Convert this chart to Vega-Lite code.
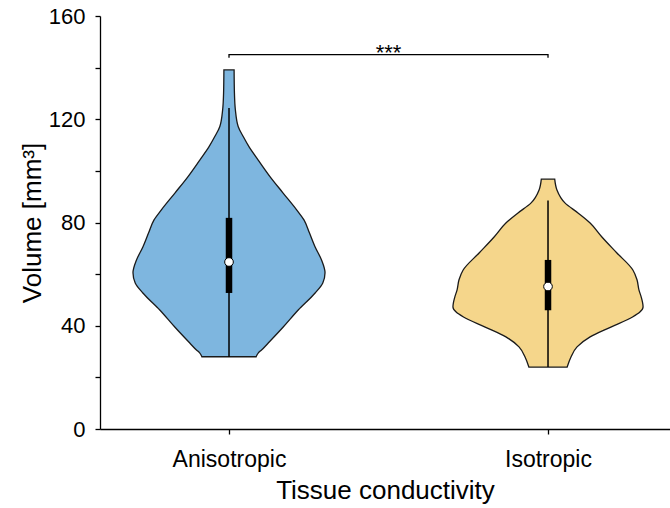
{
  "$schema": "https://vega.github.io/schema/vega-lite/v6.json",
  "width": 570,
  "height": 413,
  "autosize": "none",
  "padding": {"left": 100, "top": 16, "right": 0, "bottom": 79},
  "config": {
    "view": {"stroke": null},
    "font": "Liberation Sans",
    "axis": {
      "grid": false,
      "domainColor": "#000000",
      "domainWidth": 1.3,
      "tickColor": "#000000",
      "tickWidth": 1.3,
      "tickSize": 5,
      "labelColor": "#000000",
      "labelFontSize": 22,
      "titleColor": "#000000",
      "titleFontSize": 26,
      "titleFontWeight": "normal",
      "labelFont": "Liberation Sans",
      "titleFont": "Liberation Sans"
    }
  },
  "datasets": {
    "violin": [
      {"group": "Anisotropic", "vol": 28, "lo": -0.085, "hi": 0.085},
      {"group": "Anisotropic", "vol": 29.5, "lo": -0.092, "hi": 0.092},
      {"group": "Anisotropic", "vol": 30.6, "lo": -0.102, "hi": 0.102},
      {"group": "Anisotropic", "vol": 33.3, "lo": -0.123, "hi": 0.123},
      {"group": "Anisotropic", "vol": 39.5, "lo": -0.17, "hi": 0.17},
      {"group": "Anisotropic", "vol": 46.1, "lo": -0.217, "hi": 0.217},
      {"group": "Anisotropic", "vol": 52.7, "lo": -0.27, "hi": 0.27},
      {"group": "Anisotropic", "vol": 56.6, "lo": -0.294, "hi": 0.294},
      {"group": "Anisotropic", "vol": 60.5, "lo": -0.301, "hi": 0.301},
      {"group": "Anisotropic", "vol": 65.5, "lo": -0.29, "hi": 0.29},
      {"group": "Anisotropic", "vol": 70.5, "lo": -0.27, "hi": 0.27},
      {"group": "Anisotropic", "vol": 76, "lo": -0.252, "hi": 0.252},
      {"group": "Anisotropic", "vol": 81, "lo": -0.235, "hi": 0.235},
      {"group": "Anisotropic", "vol": 84.9, "lo": -0.212, "hi": 0.212},
      {"group": "Anisotropic", "vol": 91.5, "lo": -0.169, "hi": 0.169},
      {"group": "Anisotropic", "vol": 97.7, "lo": -0.129, "hi": 0.129},
      {"group": "Anisotropic", "vol": 104.3, "lo": -0.091, "hi": 0.091},
      {"group": "Anisotropic", "vol": 109.3, "lo": -0.063, "hi": 0.063},
      {"group": "Anisotropic", "vol": 113.2, "lo": -0.045, "hi": 0.045},
      {"group": "Anisotropic", "vol": 117.1, "lo": -0.029, "hi": 0.029},
      {"group": "Anisotropic", "vol": 123.6, "lo": -0.02, "hi": 0.02},
      {"group": "Anisotropic", "vol": 130.2, "lo": -0.017, "hi": 0.017},
      {"group": "Anisotropic", "vol": 139.1, "lo": -0.016, "hi": 0.016},
      {"group": "Isotropic", "vol": 24, "lo": 0.94, "hi": 1.06},
      {"group": "Isotropic", "vol": 27.9, "lo": 0.928, "hi": 1.072},
      {"group": "Isotropic", "vol": 31.8, "lo": 0.909, "hi": 1.091},
      {"group": "Isotropic", "vol": 35.7, "lo": 0.868, "hi": 1.132},
      {"group": "Isotropic", "vol": 39.5, "lo": 0.803, "hi": 1.197},
      {"group": "Isotropic", "vol": 43.4, "lo": 0.735, "hi": 1.265},
      {"group": "Isotropic", "vol": 45.3, "lo": 0.712, "hi": 1.288},
      {"group": "Isotropic", "vol": 47.3, "lo": 0.702, "hi": 1.298},
      {"group": "Isotropic", "vol": 51.2, "lo": 0.708, "hi": 1.292},
      {"group": "Isotropic", "vol": 53.9, "lo": 0.715, "hi": 1.285},
      {"group": "Isotropic", "vol": 57.8, "lo": 0.721, "hi": 1.279},
      {"group": "Isotropic", "vol": 61.6, "lo": 0.734, "hi": 1.266},
      {"group": "Isotropic", "vol": 68.2, "lo": 0.784, "hi": 1.216},
      {"group": "Isotropic", "vol": 74.4, "lo": 0.831, "hi": 1.169},
      {"group": "Isotropic", "vol": 79.8, "lo": 0.868, "hi": 1.132},
      {"group": "Isotropic", "vol": 83.7, "lo": 0.906, "hi": 1.094},
      {"group": "Isotropic", "vol": 87.6, "lo": 0.947, "hi": 1.053},
      {"group": "Isotropic", "vol": 92.6, "lo": 0.972, "hi": 1.028},
      {"group": "Isotropic", "vol": 96.8, "lo": 0.979, "hi": 1.021}
    ],
    "box": [
      {"group": "Anisotropic", "x": 0, "min": 28, "max": 124.4, "q1": 52.7, "q3": 81.8, "median": 64.7},
      {"group": "Isotropic", "x": 1, "min": 24, "max": 88.5, "q1": 46, "q3": 65.5, "median": 55.2}
    ],
    "bracket": [
      {"x": 0, "y": 143.8, "o": 0},
      {"x": 0, "y": 145, "o": 1},
      {"x": 1, "y": 145, "o": 2},
      {"x": 1, "y": 143.8, "o": 3}
    ],
    "sig": [{"x": 0.5, "y": 142.8, "label": "***"}]
  },
  "layer": [
    {
      "data": {"name": "violin"},
      "mark": {"type": "area", "orient": "horizontal", "stroke": "#1a1a1a", "strokeWidth": 1.3, "opacity": 1, "interpolate": "monotone"},
      "encoding": {
        "y": {"field": "vol", "type": "quantitative", "scale": {"domain": [0, 160], "nice": false},
              "axis": {"values": [0, 20, 40, 60, 80, 100, 120, 140, 160], "labelExpr": "datum.value % 40 == 0 ? datum.label : ''", "labelPadding": 10, "titlePadding": 3},
              "title": "Volume [mm³]"},
        "x": {"field": "lo", "type": "quantitative", "scale": {"domain": [-0.4044, 1.3824], "nice": false, "zero": false},
              "axis": {"values": [0, 1], "labelExpr": "datum.value == 0 ? 'Anisotropic' : 'Isotropic'", "labelPadding": 14, "labelFontSize": 23, "titlePadding": 6},
              "title": "Tissue conductivity"},
        "x2": {"field": "hi"},
        "color": {"field": "group", "type": "nominal", "scale": {"domain": ["Anisotropic", "Isotropic"], "range": ["#7eb6df", "#f5d68b"]}, "legend": null}
      }
    },
    {
      "data": {"name": "box"},
      "mark": {"type": "rule", "color": "#000000", "strokeWidth": 1.5},
      "encoding": {
        "x": {"field": "x", "type": "quantitative", "title": "Tissue conductivity"},
        "y": {"field": "min", "type": "quantitative", "title": "Volume [mm³]"},
        "y2": {"field": "max"}
      }
    },
    {
      "data": {"name": "box"},
      "mark": {"type": "rule", "color": "#000000", "strokeWidth": 6.5, "strokeCap": "butt"},
      "encoding": {
        "x": {"field": "x", "type": "quantitative", "title": "Tissue conductivity"},
        "y": {"field": "q1", "type": "quantitative", "title": "Volume [mm³]"},
        "y2": {"field": "q3"}
      }
    },
    {
      "data": {"name": "box"},
      "mark": {"type": "point", "filled": true, "fill": "#ffffff", "stroke": "#000000", "strokeWidth": 1, "size": 75, "opacity": 1},
      "encoding": {
        "x": {"field": "x", "type": "quantitative", "title": "Tissue conductivity"},
        "y": {"field": "median", "type": "quantitative", "title": "Volume [mm³]"}
      }
    },
    {
      "data": {"name": "bracket"},
      "mark": {"type": "line", "color": "#000000", "strokeWidth": 1.3},
      "encoding": {
        "x": {"field": "x", "type": "quantitative", "title": "Tissue conductivity"},
        "y": {"field": "y", "type": "quantitative", "title": "Volume [mm³]"},
        "order": {"field": "o"}
      }
    },
    {
      "data": {"name": "sig"},
      "mark": {"type": "text", "fontSize": 22, "baseline": "alphabetic", "color": "#000000"},
      "encoding": {
        "x": {"field": "x", "type": "quantitative", "title": "Tissue conductivity"},
        "y": {"field": "y", "type": "quantitative", "title": "Volume [mm³]"},
        "text": {"field": "label"}
      }
    }
  ]
}
